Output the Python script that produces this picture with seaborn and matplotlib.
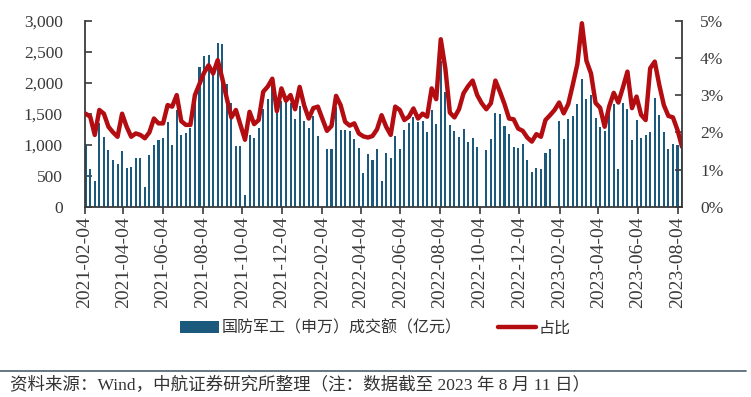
import numpy as np
import pandas as pd
import matplotlib
matplotlib.use("Agg")
import matplotlib.pyplot as plt
import matplotlib.dates as mdates
from matplotlib.lines import Line2D
from matplotlib.patches import Patch
from matplotlib.ticker import FuncFormatter
import seaborn as sns

# weekly data, Fridays from 2021-02-05 to 2023-08-11
start_date = "2021-02-05"
n_weeks = 132

# 国防军工（申万）成交额（亿元）, NaN = holiday week with no trading
turnover = [
    1000, 615, 412, 1345, 1129, 919, 753, 688, 898, 618,
    645, 790, 790, 323, 839, 995, 1075, 1113, 1360, 995,
    1559, 1150, 1183, 1263, 1750, 2258, 2430, 2450, 2200, 2640,
    2630, 1975, 1677, 975, 975, 188, 1150, 1110, 1274, 1575,
    1731, 2000, 1515, 1700, 1690, 1667, 1414, 1630, 1387, 1274,
    1460, 1145, np.nan, 930, 930, 1600, 1230, 1236, 1226, 1086,
    941, 538, 849, 753, 925, 414, 860, 780, 1140, 925,
    1236, 1355, 1452, 1371, 1387, 1199, 1559, 1328, 2350, 1855,
    1320, 1226, 1118, 1253, 1038, 1113, 957, np.nan, 914, 1091,
    1505, 1500, 1306, 1172, 957, 952, 1005, 753, 559, 618,
    608, 866, 925, np.nan, 1387, 1091, 1408, 1462, 1656, 2059,
    1736, 1801, 1425, 1290, 1226, 1680, 1650, 608, 1677, 1570,
    1080, 1398, 1103, 1160, 1205, 1755, 1478, 1210, 930, 1010,
    995, 1000,
]

# 占比 (%)
share = [
    2.50, 2.42, 1.93, 2.60, 2.50, 2.15, 2.00, 1.88, 2.50, 2.15,
    1.88, 1.97, 1.93, 1.84, 2.00, 2.37, 2.24, 2.24, 2.73, 2.69,
    3.00, 2.30, 2.20, 2.20, 3.00, 3.30, 3.60, 3.80, 3.58, 3.94,
    3.45, 2.91, 2.40, 2.60, 2.20, 1.80, 2.55, 2.22, 2.33, 3.09,
    3.23, 3.44, 2.57, 3.18, 2.85, 3.00, 2.62, 3.22, 2.72, 2.37,
    2.65, 2.69, 2.36, 2.04, 2.17, 2.98, 2.73, 2.28, 2.18, 2.24,
    1.97, 1.89, 1.86, 1.90, 2.08, 2.46, 2.15, 1.93, 2.69, 2.60,
    2.33, 2.42, 2.64, 2.37, 2.50, 2.42, 3.18, 2.89, 4.50, 3.72,
    2.53, 2.40, 2.62, 3.05, 3.24, 3.39, 3.00, 2.78, 2.62, 2.78,
    3.39, 3.09, 2.76, 2.37, 2.35, 2.10, 2.04, 1.86, 1.75, 1.95,
    1.88, 2.33, 2.46, 2.60, 2.80, 2.51, 2.76, 3.28, 3.83, 4.93,
    3.92, 3.58, 2.79, 2.66, 2.15, 2.70, 3.06, 2.80, 3.20, 3.63,
    2.65, 2.96, 2.47, 2.33, 3.72, 3.90, 3.27, 2.73, 2.44, 2.40,
    2.06, 1.61,
]

bar_label = "国防军工（申万）成交额（亿元）"
line_label = "占比"
source_text = "资料来源：Wind，中航证券研究所整理（注：数据截至 2023 年 8 月 11 日）"

bar_color = "#1b5a7c"
line_color = "#b30d12"
axis_color = "#3a3a3a"

dates = pd.date_range(start_date, periods=n_weeks, freq="7D")
df = pd.DataFrame({"x": mdates.date2num(dates), "turnover": turnover, "share": share})

sns.set_style("ticks")
plt.rcParams["font.family"] = ["Liberation Serif", "Noto Sans CJK SC"]
plt.rcParams["axes.unicode_minus"] = False

fig = plt.figure(figsize=(7.51, 3.97), dpi=100)
ax = fig.add_axes([0.1132, 0.4793, 0.795, 0.4686])

sns.barplot(data=df, x="x", y="turnover", native_scale=True, width=0.45,
            color=bar_color, saturation=1, errorbar=None, linewidth=0,
            antialiased=False, ax=ax)

ax2 = ax.twinx()
sns.lineplot(data=df, x="x", y="share", color=line_color, linewidth=3.2, ax=ax2)

x0 = mdates.date2num(pd.Timestamp("2021-02-04"))
x1 = mdates.date2num(pd.Timestamp("2023-08-11"))
ax.set_xlim(x0, x1)
ax.set_ylim(0, 3000)
ax2.set_ylim(0, 5)
ax.set_yticks(np.arange(0, 3001, 500))
ax2.set_yticks(np.arange(0, 6, 1))
ax.yaxis.set_major_formatter(FuncFormatter(lambda v, p: f"{v:,.0f}"))
ax2.yaxis.set_major_formatter(FuncFormatter(lambda v, p: f"{v:.0f}%"))

ax.xaxis.set_major_locator(mdates.MonthLocator(bymonth=[2, 4, 6, 8, 10, 12], bymonthday=4))
ax.xaxis.set_major_formatter(mdates.DateFormatter("%Y-%m-%d"))

for a in (ax, ax2):
    a.set_xlabel("")
    a.set_ylabel("")
    a.spines["top"].set_visible(False)
    for s in ("left", "right", "bottom"):
        a.spines[s].set_color(axis_color)
        a.spines[s].set_linewidth(1.3)

ax.spines["right"].set_visible(False)
ax2.spines["left"].set_visible(False)
ax2.spines["bottom"].set_visible(False)

ax.tick_params(axis="y", direction="in", length=5, width=1.2, colors=axis_color,
               labelsize=12.5, pad=16)
ax.tick_params(axis="x", direction="out", length=5, width=1.2, colors=axis_color,
               labelsize=14, labelrotation=90, pad=2)
ax2.tick_params(axis="y", direction="in", length=5, width=1.2, colors=axis_color,
                labelsize=12.5, pad=13)
if ax2.get_legend() is not None:
    ax2.get_legend().remove()

handles = [Patch(facecolor=bar_color, edgecolor="none"),
           Line2D([0], [0], color=line_color, linewidth=3.2)]
fig.legend(handles, [bar_label, line_label], loc="center", bbox_to_anchor=(0.5, 0.172),
           ncol=2, frameon=False, fontsize=11.5, handlelength=2.4, handleheight=0.8,
           handletextpad=0.15, columnspacing=2.3, labelcolor="#333333")

fig.add_artist(Line2D([0.0, 0.993], [0.0655, 0.0655], color="#5b6b7b", linewidth=1.3))
fig.text(0.013, 0.030, source_text, fontsize=12.6, color="#333333", va="center", ha="left")

fig.savefig("out.png", dpi=100)
